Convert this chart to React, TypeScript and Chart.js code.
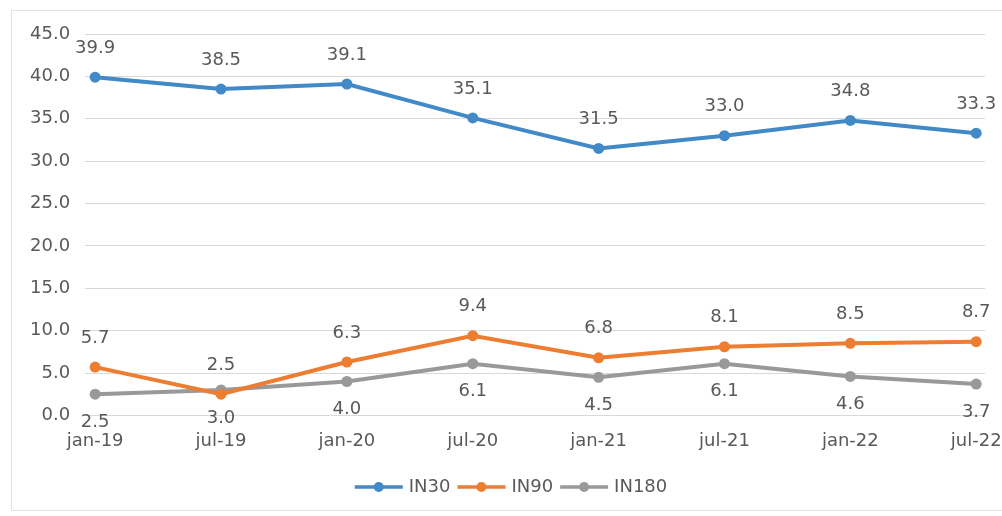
import React, { useEffect, useRef } from "react";
import { Chart, registerables } from "chart.js";

Chart.register(...registerables);

const categories = ["jan-19", "jul-19", "jan-20", "jul-20", "jan-21", "jul-21", "jan-22", "jul-22"];
const in30 = [39.9, 38.5, 39.1, 35.1, 31.5, 33.0, 34.8, 33.3];
const in90 = [5.7, 2.5, 6.3, 9.4, 6.8, 8.1, 8.5, 8.7];
const in180 = [2.5, 3.0, 4.0, 6.1, 4.5, 6.1, 4.6, 3.7];
const seriesNames = ["IN30", "IN90", "IN180"];
const seriesColors = ["#4189c7", "#ed7d31", "#999999"];
const yTicks = [0, 5, 10, 15, 20, 25, 30, 35, 40, 45];

const FONT = "DejaVu Sans";
const TEXT = "#595959";
const FS = 18;

const labelPlugin = {
  id: "valueLabels",
  afterDatasetsDraw(chart: any) {
    const ctx = chart.ctx;
    ctx.save();
    ctx.font = `${FS}px "${FONT}"`;
    ctx.fillStyle = TEXT;
    ctx.textAlign = "center";
    ctx.textBaseline = "middle";
    chart.data.datasets.forEach((ds: any, di: number) => {
      const meta = chart.getDatasetMeta(di);
      meta.data.forEach((pt: any, i: number) => {
        const v = ds.data[i].y;
        const dy = di === 2 ? 28 : -29;
        ctx.fillText(v.toFixed(1), pt.x, pt.y + dy);
      });
    });
    ctx.restore();
  },
};

const legendPlugin = {
  id: "customLegend",
  afterDraw(chart: any) {
    const ctx = chart.ctx;
    ctx.save();
    ctx.font = `${FS}px "${FONT}"`;
    ctx.textBaseline = "middle";
    ctx.textAlign = "left";
    const lineLen = 48;
    const gap1 = 6;
    const gap2 = 7;
    const widths = seriesNames.map((n) => ctx.measureText(n).width);
    let total = 0;
    widths.forEach((w, i) => {
      total += lineLen + gap1 + w + (i < widths.length - 1 ? gap2 : 0);
    });
    const cx = 511;
    const y = 487;
    let x = cx - total / 2;
    seriesNames.forEach((n, i) => {
      ctx.strokeStyle = seriesColors[i];
      ctx.lineWidth = 3.5;
      ctx.beginPath();
      ctx.moveTo(x, y);
      ctx.lineTo(x + lineLen, y);
      ctx.stroke();
      ctx.fillStyle = seriesColors[i];
      ctx.beginPath();
      ctx.arc(x + lineLen / 2, y, 5, 0, Math.PI * 2);
      ctx.fill();
      ctx.fillStyle = TEXT;
      ctx.fillText(n, x + lineLen + gap1, y);
      x += lineLen + gap1 + widths[i] + gap2;
    });
    ctx.restore();
  },
};

export default function App() {
  const ref = useRef<HTMLCanvasElement>(null);
  useEffect(() => {
    if (!ref.current) return;
    const series = [in30, in90, in180];
    const chart = new Chart(ref.current, {
      type: "line",
      data: {
        datasets: series.map((vals, si) => ({
          label: seriesNames[si],
          data: vals.map((v, i) => ({ x: i, y: v })),
          borderColor: seriesColors[si],
          backgroundColor: seriesColors[si],
          borderWidth: 4,
          pointRadius: 5.5,
          pointBorderWidth: 0,
          pointBackgroundColor: seriesColors[si],
          tension: 0,
          fill: false,
        })),
      },
      options: {
        responsive: false,
        animation: false,
        layout: { padding: { left: 15, right: 55, top: 34, bottom: 49 } },
        plugins: { legend: { display: false }, tooltip: { enabled: false } },
        scales: {
          x: {
            type: "linear",
            min: -0.08,
            max: 7.07,
            afterBuildTicks: (axis: any) => {
              axis.ticks = categories.map((_, i) => ({ value: i }));
            },
            grid: { display: false, drawTicks: false },
            border: { display: false },
            ticks: {
              padding: 15,
              maxRotation: 0,
              autoSkip: false,
              color: TEXT,
              font: { family: FONT, size: FS },
              callback: (v: any) => categories[v] ?? "",
            },
          },
          y: {
            min: 0,
            max: 45,
            afterBuildTicks: (axis: any) => {
              axis.ticks = yTicks.map((v) => ({ value: v }));
            },
            grid: { color: "#d9d9d9", lineWidth: 1, drawTicks: false },
            border: { display: false },
            ticks: {
              padding: 15,
              color: TEXT,
              font: { family: FONT, size: FS },
              callback: (v: any) => Number(v).toFixed(1),
            },
          },
        },
      },
      plugins: [labelPlugin, legendPlugin],
    } as any);
    return () => chart.destroy();
  }, []);
  return (
    <div style={{ position: "absolute", left: 0, top: 0, width: 1002, height: 516, overflow: "hidden", background: "#fff" }}>
      <div style={{ position: "absolute", left: 11, top: 10, width: 995, height: 499, border: "1px solid #e2e2e2" }} />
      <canvas ref={ref} width={1040} height={516} style={{ position: "absolute", left: 0, top: 0, width: 1040, height: 516 }} />
    </div>
  );
}
